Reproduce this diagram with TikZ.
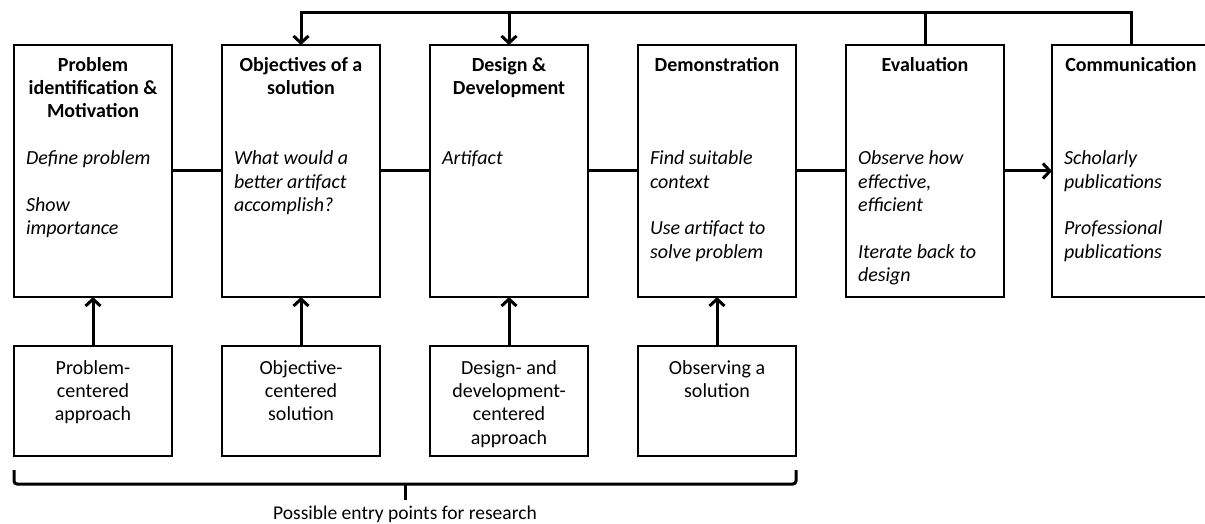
\documentclass[tikz,border=0pt]{standalone}
\usepackage{fontspec}
\setmainfont{Carlito}
\usetikzlibrary{arrows.meta}

% text of a stage box: bold centred title, then italic notes
\newcommand\stagetext[2]{\parbox[c][230pt][t]{134pt}{\fontsize{20}{23.4}\selectfont
  \centering\bfseries\rule{0pt}{15pt}#1\par
  \raggedright\mdseries\itshape #2}}
% text of an entry-point box
\newcommand\entrytext[1]{\parbox[c][84pt][t]{134pt}{\fontsize{20}{23.4}\selectfont
  \centering\rule{0pt}{15pt}#1}}

\tikzset{
  stage/.style={draw, line width=1.3pt, inner xsep=12pt, inner ysep=11pt, outer sep=0pt},
  entry/.style={draw, line width=1.3pt, inner xsep=12pt, inner ysep=13pt, outer sep=0pt},
  flow/.style={line width=3pt},
  flowarrow/.style={line width=3pt, -{Straight Barb[length=7pt,width=15pt]}},
  bracket/.style={line width=3pt, rounded corners=3pt},
  caption/.style={font=\fontsize{19.5}{22}\selectfont, inner sep=0pt, anchor=base},
}

\begin{document}
\begin{tikzpicture}[x=1pt, y=-1pt]
\useasboundingbox (0,0) rectangle (1205,524);
\fill[white] (0,0) rectangle (1205,524);

% process stages
\node[stage] (p1) at (93,171) {\stagetext{Problem\\ identification \&\\ Motivation}
  {\vspace{\baselineskip}Define problem\par\vspace{\baselineskip}Show\\ importance}};
\node[stage] (p2) at (301,171) {\stagetext{Objectives of a\\ solution}
  {\vspace{2\baselineskip}What would a\\ better artifact\\ accomplish?}};
\node[stage] (p3) at (509,171) {\stagetext{Design \&\\ Development}
  {\vspace{2\baselineskip}Artifact}};
\node[stage] (p4) at (717,171) {\stagetext{Demonstration}
  {\vspace{3\baselineskip}Find suitable\\ context\par\vspace{\baselineskip}Use artifact to\\ solve problem}};
\node[stage] (p5) at (925,171) {\stagetext{Evaluation}
  {\vspace{3\baselineskip}Observe how\\ effective,\\ efficient\par\vspace{\baselineskip}Iterate back to\\ design}};
\node[stage] (p6) at (1131,171) {\stagetext{Communication}
  {\vspace{3\baselineskip}Scholarly\\ publications\par\vspace{\baselineskip}Professional\\ publications}};

% entry points
\node[entry] (e1) at (93,401) {\entrytext{Problem-\\ centered\\ approach}};
\node[entry] (e2) at (301,401) {\entrytext{Objective-\\ centered\\ solution}};
\node[entry] (e3) at (509,401) {\entrytext{Design- and\\ development-\\ centered\\ approach}};
\node[entry] (e4) at (717,401) {\entrytext{Observing a\\ solution}};

% main sequence
\draw[flow] (p1) -- (p2);
\draw[flow] (p2) -- (p3);
\draw[flow] (p3) -- (p4);
\draw[flow] (p4) -- (p5);
\draw[flowarrow] (p5) -- (p6);

% entry arrows
\draw[flowarrow] (e1) -- (p1);
\draw[flowarrow] (e2) -- (p2);
\draw[flowarrow] (e3) -- (p3);
\draw[flowarrow] (e4) -- (p4);

% iteration feedback
\coordinate (fb) at (0,13);
\draw[flowarrow] (p6.north) -- (p6.north |- fb) -- (p2.north |- fb) -- (p2.north);
\draw[flowarrow] (p3.north |- fb) -- (p3.north);
\draw[flow] (p5.north) -- (p5.north |- fb);

% bracket under the entry points
\coordinate (bl) at (14,470);
\coordinate (br) at (796,470);
\coordinate (bm) at (405,484);
\draw[bracket] (bl) |- (bm) -| (br);
\draw[line width=3pt] (bm) -- ++(0,16);
\node[caption] (lbl) at (405,519) {Possible entry points for research};
\end{tikzpicture}
\end{document}
